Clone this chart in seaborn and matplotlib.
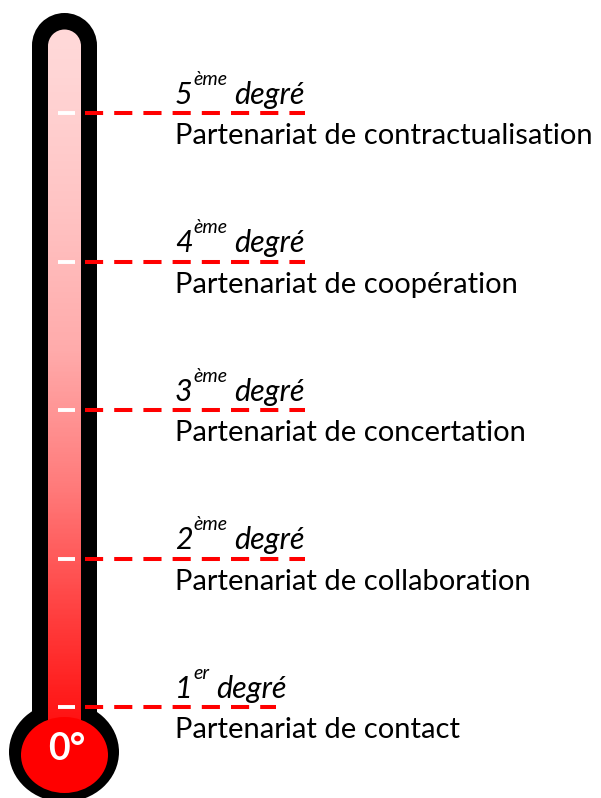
import numpy as np
import pandas as pd
import matplotlib
matplotlib.use("Agg")
import matplotlib.pyplot as plt
import seaborn as sns
from matplotlib.colors import LinearSegmentedColormap
from matplotlib.patches import Rectangle, Circle, Ellipse

# =========================
# 1. DATA
# =========================
degrees = [1, 2, 3, 4, 5]
ordinal_sup = ["er", "ème", "ème", "ème", "ème"]
header_word = "degré"
partnerships = [
    "Partenariat de contact",
    "Partenariat de collaboration",
    "Partenariat de concertation",
    "Partenariat de coopération",
    "Partenariat de contractualisation",
]
bulb_label = "0°"

# =========================
# 2. STYLE / LAYOUT
# =========================
sns.set_style("white")
plt.rcParams['font.family'] = ['Lato', 'DejaVu Sans']
plt.rcParams['text.color'] = 'black'

W, H = 601, 798
PX_PER_DEG = 148.5          # vertical distance between two degrees (px)
Y_DEG1 = 707                # pixel row of the 1st degree
DASH_START = 85
dash_end = [276, 305, 305, 305, 305]
TEXT_X = 175
RED = "#FF0000"

fig = plt.figure(figsize=(W / 100, H / 100), dpi=100)

# thermometer body, drawn in pixel coordinates
body = fig.add_axes([0, 0, 1, 1], zorder=0)
body.set_axis_off()

# outer black tube with round cap + bulb
body.add_patch(Rectangle((32, 45.5), 65, 700, facecolor="black", edgecolor="none", zorder=1))
body.add_patch(Circle((64.5, 45.5), 32.5, facecolor="black", edgecolor="none", zorder=1))
body.add_patch(Ellipse((64, 752), 110, 100, facecolor="black", edgecolor="none", zorder=1))

# inner gradient tube
cmap = LinearSegmentedColormap.from_list("thermo", [
    (0.00, "#FFD8D8"), (0.03, "#FFD6D6"), (0.22, "#FFC4C4"), (0.42, "#FFABAB"),
    (0.62, "#FF7878"), (0.81, "#FF3838"), (0.89, "#FF2020"), (1.00, "#FF0000")])
body.add_patch(Circle((64.5, 46), 16.5, facecolor="#FFD8D8", edgecolor="none", zorder=2))
grad = np.linspace(0, 1, 400).reshape(-1, 1)
body.imshow(grad, cmap=cmap, extent=(48, 81, 769, 46), origin="upper",
            aspect="auto", interpolation="bilinear", zorder=2)

# inner red bulb
body.add_patch(Ellipse((64.5, 755), 87, 76, facecolor=RED, edgecolor="none", zorder=3))
body.text(67, 760, bulb_label, color="white", fontsize=27, fontweight="bold",
          ha="center", va="baseline", zorder=4)
body.set_xlim(0, W)
body.set_ylim(H, 0)

# =========================
# 3. DEGREE LEVELS
# =========================
ax = fig.add_axes([0, 0, 1, 1], zorder=1)
ax.patch.set_alpha(0)

lines = pd.DataFrame({
    "x": [v for e in dash_end for v in (DASH_START, e)],
    "degree": [d for d in degrees for _ in range(2)],
})
sns.lineplot(data=lines, x="x", y="degree", units="degree", estimator=None, sort=False,
             color=RED, linewidth=2.9, linestyle=(0, (4.5, 2.75)), ax=ax, legend=False)
ax.set_axis_off()
ax.set_xlim(0, W)
ax.set_ylim(1 - (H - Y_DEG1) / PX_PER_DEG, 1 + Y_DEG1 / PX_PER_DEG)

# white tick marks inside the tube
ax.hlines(degrees, 58, 75, color="white", linewidth=2.8)

for d, sup, label in zip(degrees, ordinal_sup, partnerships):
    num = ax.annotate(str(d), xy=(TEXT_X, d), xytext=(0, 6.5), textcoords="offset points",
                      fontsize=22, fontstyle="italic", color="black", ha="left", va="baseline")
    s = ax.annotate(sup, xy=(1, d), xycoords=(num, "data"), xytext=(0.5, 20.5),
                    textcoords="offset points", fontsize=14, fontstyle="italic",
                    color="black", ha="left", va="baseline")
    ax.annotate(header_word, xy=(1, d), xycoords=(s, "data"), xytext=(5, 6.5),
                textcoords="offset points", fontsize=22, fontstyle="italic",
                color="black", ha="left", va="baseline")
    ax.annotate(label, xy=(TEXT_X, d), xytext=(0, -22.5), textcoords="offset points",
                fontsize=21, color="black", ha="left", va="baseline")

plt.savefig("out.png", dpi=100)
